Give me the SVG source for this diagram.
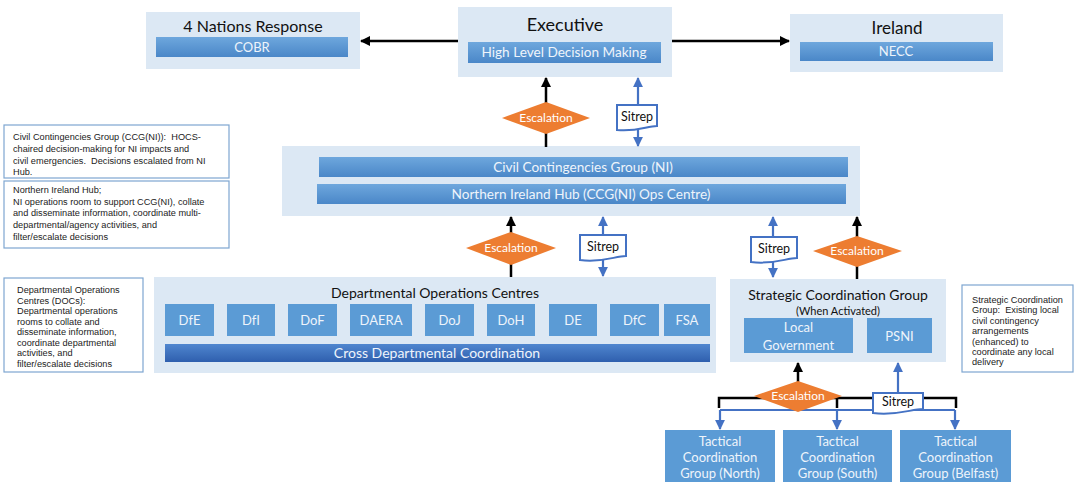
<svg xmlns="http://www.w3.org/2000/svg" width="1078" height="485" viewBox="0 0 1078 485">
<defs>
<linearGradient id="gBar" x1="0" y1="0" x2="0" y2="1"><stop offset="0" stop-color="#6ea7dd"/><stop offset="1" stop-color="#4a87c8"/></linearGradient>
<linearGradient id="gDark" x1="0" y1="0" x2="0" y2="1"><stop offset="0" stop-color="#4f86cf"/><stop offset="1" stop-color="#2f5fae"/></linearGradient>
<marker id="ak" viewBox="0 0 10 10" refX="9" refY="5" markerWidth="4" markerHeight="4" orient="auto" markerUnits="strokeWidth"><path d="M0,0 L10,5 L0,10 Z" fill="#000"/></marker>
<marker id="ab" viewBox="0 0 10 10" refX="9" refY="5" markerWidth="4.5" markerHeight="4.5" orient="auto" markerUnits="strokeWidth"><path d="M0,0 L10,5 L0,10 Z" fill="#4472c4"/></marker>
</defs>
<style>
.panel{fill:#dce8f4}
.bar{fill:url(#gBar)}
.dark{fill:url(#gDark)}
.box{fill:#5b9bd5}
.t{font-family:Lato,"Liberation Sans",sans-serif;text-anchor:middle}
.title{font-size:18px;fill:#111}
.title2{font-size:14px;fill:#111}
.bt{font-size:13px;fill:#eef4fb}
.bb{font-size:13.6px}
.note{fill:#fff;stroke:#7ea6d1;stroke-width:1.2}
.nt{font-family:"Liberation Sans",Arial,sans-serif;font-size:9.2px;fill:#222;white-space:pre}
.dia{fill:#ed7d31}
.et{font-size:12px;fill:#fff}
.doc{fill:#fff;stroke:#4472c4;stroke-width:2}
.st{font-size:12.5px;fill:#111}
.kl{stroke:#000;stroke-width:2.5;fill:none}
.bl{stroke:#4472c4;stroke-width:2.2;fill:none}
</style>
<rect width="1078" height="485" fill="#fff"/>

<g id="four-nations">
<rect class="panel" x="146" y="12" width="214" height="57"/>
<text class="t title" x="253" y="32" style="font-size:16px">4 Nations Response</text>
<rect class="bar" x="156" y="37" width="192" height="20"/>
<text class="t bt" x="252" y="52">COBR</text>
</g>

<g id="executive">
<rect class="panel" x="458" y="7" width="214" height="70"/>
<text class="t title" x="565" y="31">Executive</text>
<rect class="bar" x="468" y="42" width="193" height="21"/>
<text class="t bt bb" x="564" y="57">High Level Decision Making</text>
</g>

<g id="ireland">
<rect class="panel" x="790" y="14" width="213" height="58"/>
<text class="t title" x="897" y="34" style="font-size:17px">Ireland</text>
<rect class="bar" x="800" y="42" width="193" height="19"/>
<text class="t bt" x="896" y="56">NECC</text>
</g>

<g id="ccg">
<rect class="panel" x="282" y="146" width="578" height="70"/>
<rect class="bar" x="319" y="157" width="529" height="20"/>
<text class="t bt bb" x="583" y="172">Civil Contingencies Group (NI)</text>
<rect class="bar" x="317" y="184" width="529" height="20"/>
<text class="t bt bb" x="581" y="199">Northern Ireland Hub (CCG(NI) Ops Centre)</text>
</g>

<g id="docs">
<rect class="panel" x="154" y="277" width="562" height="96"/>
<text class="t title2" x="435" y="298">Departmental Operations Centres</text>
<rect class="box" x="165" y="304" width="49" height="32"/><text class="t bt" x="189.5" y="325">DfE</text>
<rect class="box" x="227" y="304" width="48" height="32"/><text class="t bt" x="251" y="325">DfI</text>
<rect class="box" x="288" y="304" width="49" height="32"/><text class="t bt" x="312.5" y="325">DoF</text>
<rect class="box" x="350" y="304" width="62" height="32"/><text class="t bt" x="381" y="325">DAERA</text>
<rect class="box" x="425" y="304" width="49" height="32"/><text class="t bt" x="449.5" y="325">DoJ</text>
<rect class="box" x="487" y="304" width="48" height="32"/><text class="t bt" x="511" y="325">DoH</text>
<rect class="box" x="549" y="304" width="48" height="32"/><text class="t bt" x="573" y="325">DE</text>
<rect class="box" x="610" y="304" width="49" height="32"/><text class="t bt" x="634.5" y="325">DfC</text>
<rect class="box" x="664" y="304" width="46" height="32"/><text class="t bt" x="687" y="325">FSA</text>
<rect class="dark" x="165" y="344" width="545" height="18"/>
<text class="t bt" x="437" y="358" style="font-size:14px">Cross Departmental Coordination</text>
</g>

<g id="scg">
<rect class="panel" x="730" y="279" width="216" height="83"/>
<text class="t title2" x="838" y="300">Strategic Coordination Group</text>
<text class="t" x="838" y="315" style="font-size:11px;fill:#111">(When Activated)</text>
<rect class="box" x="744" y="318" width="109" height="35"/>
<text class="t bt" x="798.5" y="332">Local</text>
<text class="t bt" x="798.5" y="350">Government</text>
<rect class="box" x="867" y="318" width="65" height="35"/>
<text class="t bt" x="899.5" y="341">PSNI</text>
</g>

<g id="tcg-north">
<rect class="box" x="665" y="430" width="110" height="52"/>
<text class="t bt" x="720" y="446">Tactical</text>
<text class="t bt" x="720" y="462">Coordination</text>
<text class="t bt" x="720" y="478">Group (North)</text>
</g>
<g id="tcg-south">
<rect class="box" x="783" y="430" width="109" height="52"/>
<text class="t bt" x="837.5" y="446">Tactical</text>
<text class="t bt" x="837.5" y="462">Coordination</text>
<text class="t bt" x="837.5" y="478">Group (South)</text>
</g>
<g id="tcg-belfast">
<rect class="box" x="900" y="430" width="111" height="52"/>
<text class="t bt" x="955.5" y="446">Tactical</text>
<text class="t bt" x="955.5" y="462">Coordination</text>
<text class="t bt" x="955.5" y="478">Group (Belfast)</text>
</g>

<g id="note-ccg">
<rect class="note" x="4" y="125" width="225" height="53"/>
<text class="nt" x="13" y="140">Civil Contingencies Group (CCG(NI)):  HOCS-</text>
<text class="nt" x="13" y="152">chaired decision-making for NI impacts and</text>
<text class="nt" x="13" y="164">civil emergencies.  Decisions escalated from NI</text>
<text class="nt" x="13" y="175">Hub.</text>
</g>
<g id="note-hub">
<rect class="note" x="4" y="181" width="225" height="67"/>
<text class="nt" x="13" y="193">Northern Ireland Hub;</text>
<text class="nt" x="13" y="205">NI operations room to support CCG(NI), collate</text>
<text class="nt" x="13" y="216">and disseminate information, coordinate multi-</text>
<text class="nt" x="13" y="228">departmental/agency activities, and</text>
<text class="nt" x="13" y="240">filter/escalate decisions</text>
</g>
<g id="note-docs">
<rect class="note" x="4" y="278" width="139" height="94"/>
<text class="nt" x="17" y="293">Departmental Operations</text>
<text class="nt" x="17" y="304">Centres (DOCs):</text>
<text class="nt" x="17" y="314">Departmental operations</text>
<text class="nt" x="17" y="325">rooms to collate and</text>
<text class="nt" x="17" y="335">disseminate information,</text>
<text class="nt" x="17" y="346">coordinate departmental</text>
<text class="nt" x="17" y="356">activities, and</text>
<text class="nt" x="17" y="367">filter/escalate decisions</text>
</g>
<g id="note-scg">
<rect class="note" x="962" y="285" width="111" height="87"/>
<text class="nt" x="972" y="303">Strategic Coordination</text>
<text class="nt" x="972" y="313">Group:  Existing local</text>
<text class="nt" x="972" y="324">civil contingency</text>
<text class="nt" x="972" y="334">arrangements</text>
<text class="nt" x="972" y="345">(enhanced) to</text>
<text class="nt" x="972" y="355">coordinate any local</text>
<text class="nt" x="972" y="365">delivery</text>
</g>

<g id="connectors">
<path class="kl" d="M458,41 H361" marker-end="url(#ak)"/>
<path class="kl" d="M672,41 H789" marker-end="url(#ak)"/>
<path class="kl" d="M546,147 V78" marker-end="url(#ak)"/>
<path class="bl" d="M638,105 V78" marker-end="url(#ab)"/>
<path class="bl" d="M638,128 V146" marker-end="url(#ab)"/>
<path class="kl" d="M511,277 V217" marker-end="url(#ak)"/>
<path class="bl" d="M603,235 V217" marker-end="url(#ab)"/>
<path class="bl" d="M603,258 V276" marker-end="url(#ab)"/>
<path class="bl" d="M773,237 V217" marker-end="url(#ab)"/>
<path class="bl" d="M773,260 V277" marker-end="url(#ab)"/>
<path class="kl" d="M857,279 V217" marker-end="url(#ak)"/>
<path class="kl" d="M798,398 V363" marker-end="url(#ak)"/>
<path class="kl" d="M719,408 V398 H956 V408 M837,398 V408"/>
<path class="bl" d="M720,410 H955"/>
<path class="bl" d="M720,410 V429" marker-end="url(#ab)"/>
<path class="bl" d="M837,410 V429" marker-end="url(#ab)"/>
<path class="bl" d="M955,410 V429" marker-end="url(#ab)"/>
<path class="bl" d="M898,393 V363" marker-end="url(#ab)"/>
</g>

<g id="escalation-1">
<polygon class="dia" points="546,102 590,118 546,134 502,118"/>
<text class="t et" x="546" y="122">Escalation</text>
</g>
<g id="sitrep-1">
<path class="doc" d="M617,105 H657 V126 C647,126 637,132 617,130 Z"/>
<text class="t st" x="637" y="121">Sitrep</text>
</g>
<g id="escalation-2">
<polygon class="dia" points="511,232 556,248 511,265 466,248"/>
<text class="t et" x="511" y="252">Escalation</text>
</g>
<g id="sitrep-2">
<path class="doc" d="M580,235 H626 V256 C615,256 603,263 580,260 Z"/>
<text class="t st" x="603" y="251">Sitrep</text>
</g>
<g id="sitrep-3">
<path class="doc" d="M751,237 H797 V258 C786,258 774,265 751,262 Z"/>
<text class="t st" x="774" y="253">Sitrep</text>
</g>
<g id="escalation-3">
<polygon class="dia" points="857,236 902,251 857,267 813,251"/>
<text class="t et" x="857" y="255">Escalation</text>
</g>
<g id="escalation-4">
<polygon class="dia" points="798,381 842,396 798,412 754,396"/>
<text class="t et" x="798" y="400">Escalation</text>
</g>
<g id="sitrep-4">
<path class="doc" d="M873,393 H923 V409 C911,409 898,416 873,413 Z"/>
<text class="t st" x="898" y="406">Sitrep</text>
</g>
</svg>
